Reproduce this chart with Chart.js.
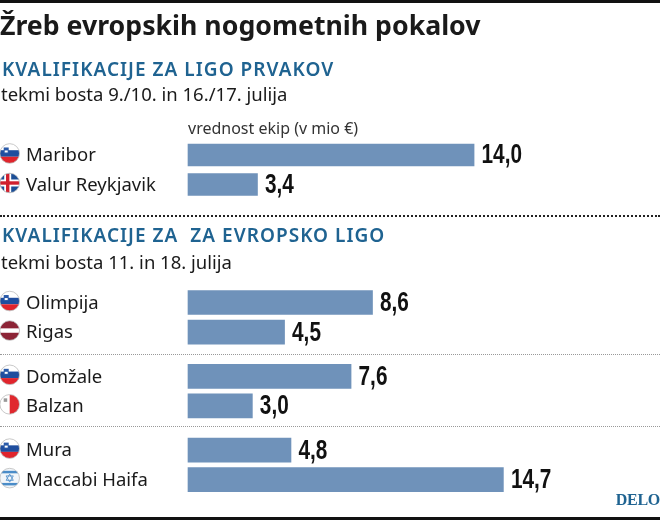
<!DOCTYPE html>
<html><head><meta charset="utf-8">
<script src="https://cdn.jsdelivr.net/npm/chart.js@4"></script>
<style>
html,body{margin:0;padding:0;background:#fff;width:660px;height:520px;overflow:hidden}
#w{position:relative;width:660px;height:520px;font-family:"Noto Sans",sans-serif;color:#1a1a1a}
#w div{position:absolute;white-space:pre;line-height:1}
canvas{position:absolute;left:0;top:0}
.h{font-weight:600;font-size:19px;letter-spacing:1.03px;color:#1f6391;left:2px}
.s{font-size:18.5px;left:1px}
.d{left:0;width:660px;height:0}
</style></head><body>
<div id="w">
<canvas id="c" width="660" height="520"></canvas>
<div style="left:0;top:0;width:660px;height:3px;background:#111"></div>
<div style="left:0;top:517px;width:660px;height:3px;background:#111"></div>
<div style="left:0;top:12px;font-weight:700;font-size:26.7px">Žreb evropskih nogometnih pokalov</div>
<div class="h" style="top:60px">KVALIFIKACIJE ZA LIGO PRVAKOV</div>
<div class="s" style="top:85px">tekmi bosta 9./10. in 16./17. julija</div>
<div style="left:188px;top:120px;font-size:16px;color:#333">vrednost ekip (v mio €)</div>
<div class="d" style="top:215px;border-top:2px dotted #222"></div>
<div class="h" style="top:226px">KVALIFIKACIJE ZA  ZA EVROPSKO LIGO</div>
<div class="s" style="top:253px">tekmi bosta 11. in 18. julija</div>
<div class="d" style="top:354px;border-top:1px dotted #999"></div>
<div class="d" style="top:426px;border-top:1px dotted #999"></div>
<div style="right:0;top:492px;font-family:'Liberation Serif',serif;font-weight:700;font-size:16px;letter-spacing:-.3px;color:#1f6391">DELO</div>
</div>
<script>
const teams=["Maribor","","Valur Reykjavik","","","","","","","","Olimpija","","Rigas","","","Domžale","","Balzan","","","Mura","","Maccabi Haifa"];
const flags=["si",null,"is",null,null,null,null,null,null,null,"si",null,"lv",null,null,"si",null,"mt",null,null,"si",null,"il"];
const championsValues=[14.0,null,3.4];
const europaValues=[null,null,null,null,null,null,null,null,null,null,8.6,null,4.5,null,null,7.6,null,3.0,null,null,4.8,null,14.7];
const barColor="#6f92ba";

function drawFlag(ctx,code,cx,cy,r){
  ctx.save();ctx.beginPath();ctx.arc(cx,cy,r,0,Math.PI*2);ctx.clip();
  const x=cx-r,y=cy-r,d=2*r;
  const rect=(c,a,b,w,h)=>{ctx.fillStyle=c;ctx.fillRect(a,b,w,h)};
  rect("#fff",x,y,d,d);
  if(code==="si"){
    rect("#1f4e9e",x,y+d/3,d,d/3);rect("#e0242c",x,y+2*d/3,d,d/3);
    rect("#2a5aa8",cx-6,cy-6,5,6);rect("#fff",cx-5,cy-3,3,2);
  }else if(code==="is"){
    rect("#1c4f96",x,y,d,d);
    rect("#fff",x,cy-3.5,d,7);rect("#fff",cx-5.5,y,7,d);
    rect("#d0202e",x,cy-1.7,d,3.4);rect("#d0202e",cx-3.7,y,3.4,d);
  }else if(code==="lv"){
    rect("#8c2436",x,y,d,d);rect("#fff",x,cy-2.2,d,4.4);
  }else if(code==="mt"){
    rect("#e0282e",cx,y,r,d);rect("#999",cx-6,cy-6,3.5,3.5);
  }else if(code==="il"){
    rect("#f2f6fa",x,y,d,d);rect("#4a8cc8",x,y+2.5,d,2.5);rect("#4a8cc8",x,y+d-5,d,2.5);
    ctx.strokeStyle="#4a8cc8";ctx.lineWidth=.8;
    for(const s of [1,-1]){ctx.beginPath();ctx.moveTo(cx,cy-4*s);ctx.lineTo(cx+3.6,cy+2.2*s);ctx.lineTo(cx-3.6,cy+2.2*s);ctx.closePath();ctx.stroke();}
  }
  ctx.restore();
  ctx.beginPath();ctx.arc(cx,cy,r,0,Math.PI*2);ctx.strokeStyle="#bbb";ctx.lineWidth=.8;ctx.stroke();
}

const extras={id:"extras",afterDatasetsDraw(chart){
  const ctx=chart.ctx,y=chart.scales.y;
  flags.forEach((f,i)=>{if(f)drawFlag(ctx,f,9.7,y.getPixelForValue(i)-1.5,9.8)});
  ctx.fillStyle="#111";ctx.font="bold 27px 'Liberation Sans',sans-serif";
  ctx.textBaseline="middle";ctx.textAlign="left";
  chart.data.datasets.forEach((ds,k)=>{
    const meta=chart.getDatasetMeta(k);
    ds.data.forEach((v,i)=>{if(v==null)return;
      ctx.save();
      ctx.translate(meta.data[i].x+7.5,meta.data[i].y+1);
      ctx.scale(.77,1);
      ctx.fillText(v.toFixed(1).replace(".",","),0,0);
      ctx.restore();});
  });
}};

new Chart(document.getElementById("c"),{
  type:"bar",
  data:{labels:teams,datasets:[
    {data:championsValues,xAxisID:"x",backgroundColor:barColor,barThickness:22,grouped:false,clip:false},
    {data:europaValues,xAxisID:"x2",backgroundColor:barColor,barThickness:24,grouped:false,clip:false}
  ]},
  options:{
    indexAxis:"y",responsive:false,animation:false,
    layout:{padding:{left:26,top:147.6,bottom:33,right:0}},
    plugins:{legend:{display:false},tooltip:{enabled:false}},
    scales:{
      x:{display:false,min:0,max:23.1},
      x2:{display:false,min:0,max:22},
      y:{
        afterFit(s){s.width=162},
        grid:{display:false},border:{display:false},
        ticks:{autoSkip:false,crossAlign:"far",padding:0,labelOffset:1,color:"#1a1a1a",
          font:{family:"'Noto Sans'",size:18.5}}
      }
    }
  },
  plugins:[extras]
});
</script>
</body></html>
